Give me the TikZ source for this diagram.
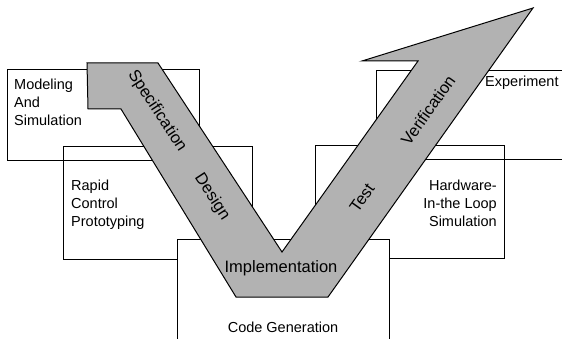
\documentclass[tikz,border=0pt]{standalone}
\usepackage{fontspec}
\setmainfont{Liberation Sans}
\begin{document}
\begin{tikzpicture}[x=1pt,y=-1pt,
  box/.style={draw, line width=1.1pt, rectangle, anchor=north west, inner sep=0pt},
  lbl/.style={font=\fontsize{14.5}{18}\selectfont, inner sep=0pt},
  alabel/.style={font=\fontsize{16.5}{18}\selectfont, inner sep=0pt},
  vshape/.style={draw, line width=1pt, fill=black!30, line join=miter}]
\clip (0,0) rectangle (562,339);
% boxes
\node[box, minimum width=192pt, minimum height=91pt] (ms) at (7,69) {};
\node[box, minimum width=189pt, minimum height=113pt] (rcp) at (63,146) {};
\node[box, minimum width=224pt, minimum height=89pt] (exp) at (376,70) {};
\node[box, minimum width=189pt, minimum height=113pt] (hil) at (315,145) {};
\node[box, fill=white, minimum width=212pt, minimum height=121pt] (cg) at (177,239) {};
% V arrow
\draw[vshape] (87,63) -- (158,63) -- (282,252) -- (418,61) -- (362,61) -- (533,8)
  -- (328,297) -- (236,297) -- (121,109) -- (88,109) -- cycle;
% box labels
\node[lbl, anchor=north west, align=left] (mst) at (14,79) {Modeling\\And\\Simulation};
\node[lbl, anchor=north west, align=left] (rct) at (71,180) {Rapid\\Control\\Prototyping};
\node[lbl, anchor=north east, align=right] (hwt) at (497,180) {Hardware-\\In-the Loop\\Simulation};
\node[lbl, anchor=west] (ext) at (485,83) {Experiment};
\node[lbl] (cgt) at (283,327) {Code Generation};
% arrow labels
\node[alabel] (imp) at (281,268) {Implementation};
\node[alabel, rotate=-56.7] (spec) at (157,111) {Specification};
\node[alabel, rotate=-56.7] (des) at (212,197) {Design};
\node[alabel, rotate=54.6] (test) at (362,198) {Test};
\node[alabel, rotate=54.6] (ver) at (428,110) {Verification};
\end{tikzpicture}
\end{document}
